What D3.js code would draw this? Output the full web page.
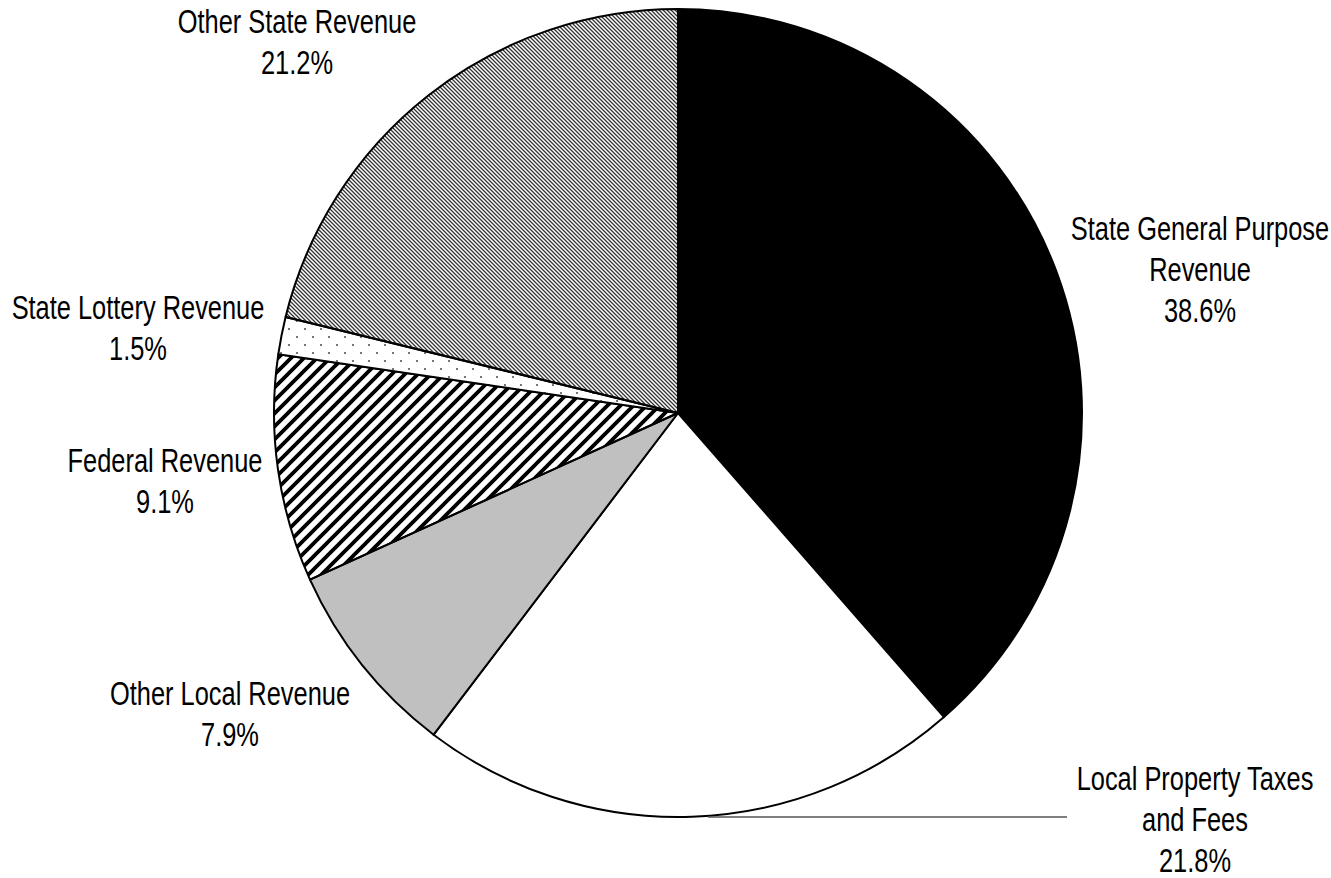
<!DOCTYPE html>
<html lang="en">
<head>
  <meta charset="utf-8">
  <script src="https://d3js.org/d3.v7.min.js"></script>
  <style>
    body { margin: 0; background: #fff; }
    text { font-family: "Liberation Sans", Arial, sans-serif; font-size: 33px; fill: #000; }
  </style>
</head>
<body>
<div id="chart"></div>
<script>

// slices, clockwise from 12 o'clock
var categories = ["State General Purpose Revenue", "Local Property Taxes and Fees", "Other Local Revenue",
                  "Federal Revenue", "State Lottery Revenue", "Other State Revenue"]
var shares = [38.6, 21.8, 7.9, 9.1, 1.5, 21.2]
var labelLines = [
  ["State General Purpose", "Revenue", "38.6%"],
  ["Local Property Taxes", "and Fees", "21.8%"],
  ["Other Local Revenue", "7.9%"],
  ["Federal Revenue", "9.1%"],
  ["State Lottery Revenue", "1.5%"],
  ["Other State Revenue", "21.2%"]
]
// label centre (x) and first line middle (y)
var labelPos = [[1200, 228], [1195, 778], [230, 693], [165, 460], [138, 307], [297, 21]]
var fills = ["#000", "#fff", "#c0c0c0", "url(#stripes)", "url(#dots)", "url(#hatch)"]

var width = 1331, height = 878
var cx = 678, cy = 413, radius = 404
var narrow = 0.77   // squeeze the sans to look like a condensed face

var svg = d3.select("#chart")
  .append("svg")
    .attr("width", width)
    .attr("height", height)

// fill patterns
var defs = svg.append("defs")

defs.append("pattern")
  .attr("id", "hatch")
  .attr("patternUnits", "userSpaceOnUse")
  .attr("width", 4).attr("height", 4)
  .append("path")
    .attr("d", "M-1,-1L5,5M-1,3L1,5M3,-1L5,1")
    .attr("stroke", "#333")
    .attr("stroke-width", 1.3)

defs.append("pattern")
  .attr("id", "stripes")
  .attr("patternUnits", "userSpaceOnUse")
  .attr("width", 13).attr("height", 13)
  .append("path")
    .attr("d", "M-3.25,3.25L3.25,-3.25M0,13L13,0M9.75,16.25L16.25,9.75")
    .attr("stroke", "#000")
    .attr("stroke-width", 3.8)

var dp = defs.append("pattern")
  .attr("id", "dots")
  .attr("patternUnits", "userSpaceOnUse")
  .attr("width", 16).attr("height", 16)
dp.append("rect").attr("width", 16).attr("height", 16).attr("fill", "#fff")
dp.selectAll("circle")
  .data([[3, 4], [11, 12]])
  .enter().append("circle")
    .attr("cx", function(d) { return d[0] })
    .attr("cy", function(d) { return d[1] })
    .attr("r", 1.1)
    .attr("fill", "#555")

var pie = d3.pie().sort(null).value(function(d) { return d })
var arc = d3.arc().innerRadius(0).outerRadius(radius)

var g = svg.append("g")
  .attr("transform", "translate(" + cx + "," + cy + ")")

g.selectAll("path.slice")
  .data(pie(shares))
  .enter()
  .append("path")
    .attr("class", "slice")
    .attr("d", arc)
    .attr("fill", function(d, i) { return fills[i] })
    .attr("stroke", "#000")
    .attr("stroke-width", 2)
    .attr("stroke-linejoin", "round")

// leader line for the property tax slice
svg.append("line")
  .attr("x1", cx + 30).attr("y1", cy + radius)
  .attr("x2", 1067).attr("y2", cy + radius)
  .attr("stroke", "#555")
  .attr("stroke-width", 1.3)

// labels
var lab = svg.selectAll("text.lab")
  .data(labelLines)
  .enter()
  .append("text")
    .attr("class", "lab")
    .attr("text-anchor", "middle")
    .attr("transform", function(d, i) {
      return "translate(" + labelPos[i][0] + "," + labelPos[i][1] + ") scale(" + narrow + ",1)"
    })

lab.selectAll("tspan")
  .data(function(d) { return d })
  .enter()
  .append("tspan")
    .attr("x", 0)
    .attr("y", function(d, j) { return j * 41 })
    .attr("dy", "0.35em")
    .text(function(d) { return d })

</script>
</body>
</html>
